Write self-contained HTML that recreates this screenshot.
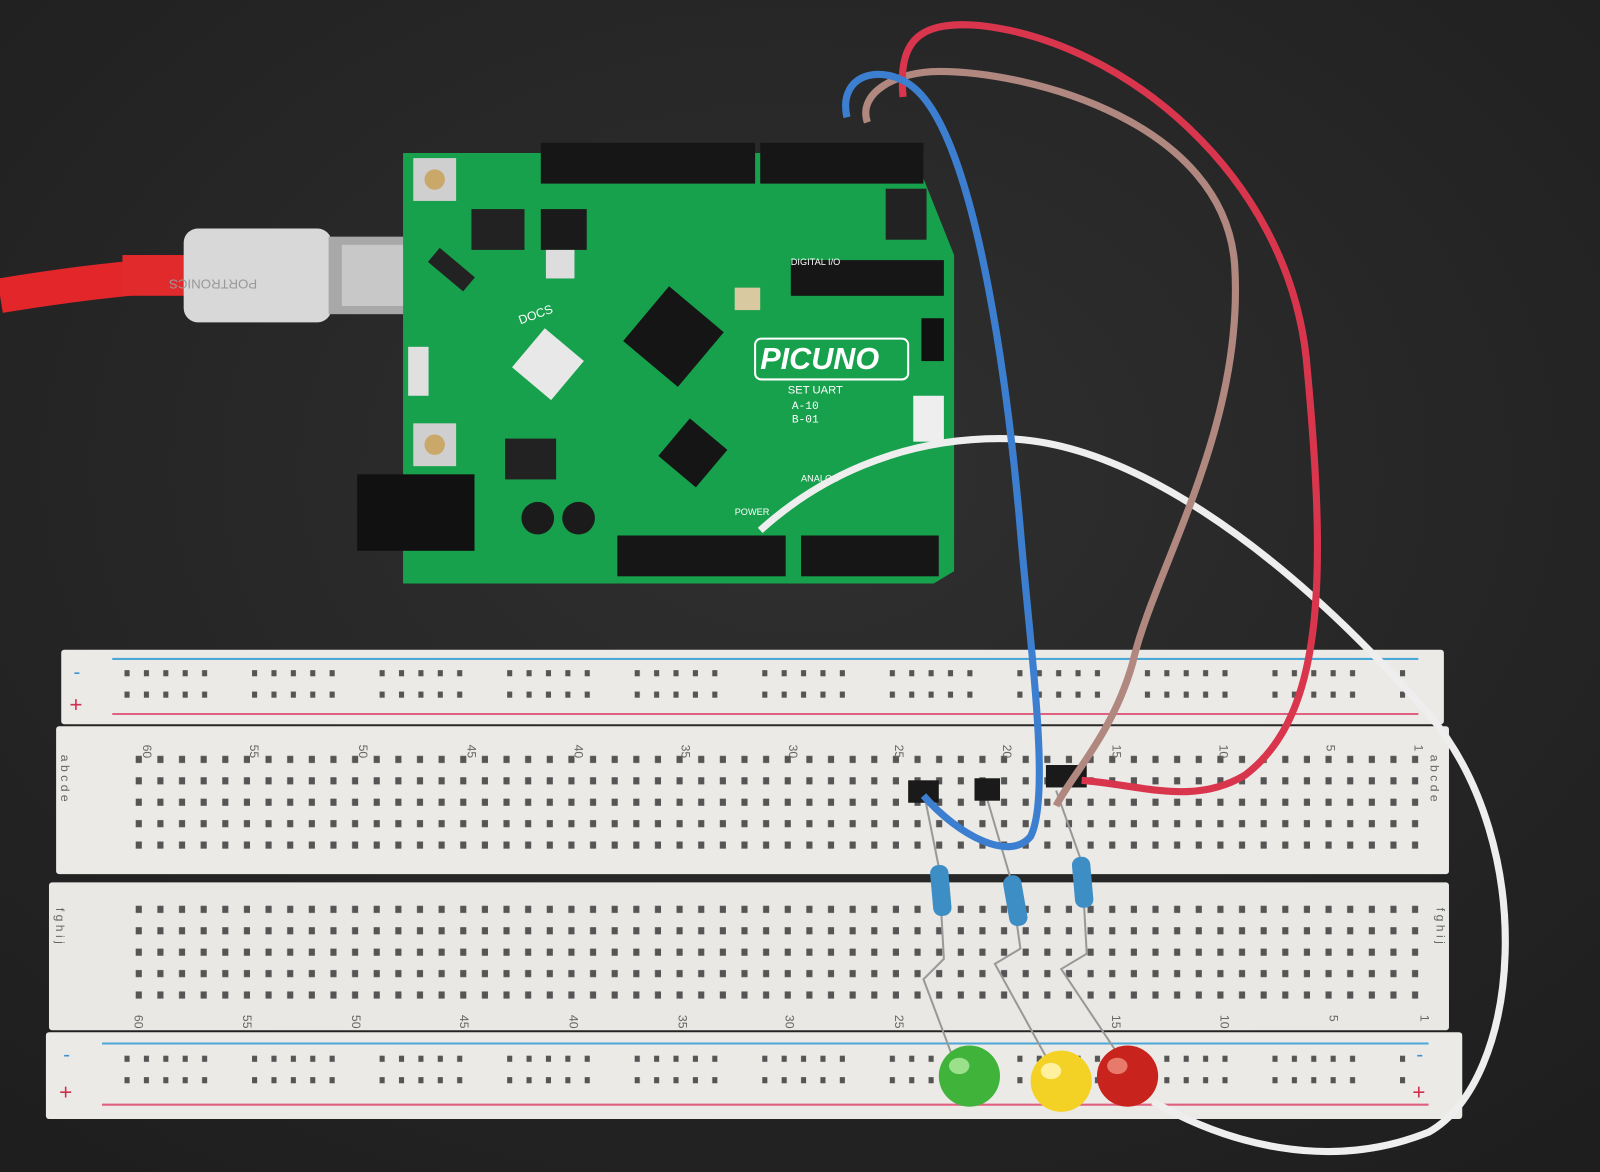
<!DOCTYPE html>
<html><head><meta charset="utf-8"><style>
html,body{margin:0;padding:0;background:#262626;}
svg{display:block}
</style></head><body>
<svg width="1600" height="1172" viewBox="0 0 1568 1149" preserveAspectRatio="none" xmlns="http://www.w3.org/2000/svg">
<defs>
<radialGradient id="bg" cx="50%" cy="40%" r="75%"><stop offset="0" stop-color="#303030"/><stop offset="1" stop-color="#1e1e1e"/></radialGradient>
<pattern id="holes" x="20" y="0" width="21.2" height="21" patternUnits="userSpaceOnUse"><rect x="7" y="6" width="6" height="7" fill="#555"/></pattern>
<pattern id="rail" x="122" y="0" width="125" height="21" patternUnits="userSpaceOnUse">
<rect x="0" y="6" width="5" height="6" fill="#555"/><rect x="19" y="6" width="5" height="6" fill="#555"/><rect x="38" y="6" width="5" height="6" fill="#555"/><rect x="57" y="6" width="5" height="6" fill="#555"/><rect x="76" y="6" width="5" height="6" fill="#555"/></pattern>
</defs>
<rect width="1568" height="1149" fill="url(#bg)"/>

<!-- USB cable -->
<path d="M0,290 C60,280 120,272 190,268" stroke="#e3262a" stroke-width="34" fill="none"/>
<rect x="120" y="250" width="70" height="40" fill="#e02a2b"/>
<rect x="180" y="224" width="145" height="92" rx="14" fill="#d8d8d8"/>
<text x="252" y="262" font-family="Liberation Sans,sans-serif" font-size="13" fill="#999" transform="rotate(180 252 268)">PORTRONICS</text>
<rect x="322" y="232" width="85" height="76" fill="#a8a8a8"/>
<rect x="335" y="240" width="66" height="60" fill="#c8c8c8"/>

<!-- Board -->
<path d="M395,150 L905,150 L905,175 L935,250 L935,560 L915,572 L395,572 Z" fill="#17a14c"/>
<rect x="530" y="140" width="210" height="40" fill="#161616"/>
<rect x="745" y="140" width="160" height="40" fill="#161616"/>
<rect x="775" y="255" width="150" height="35" fill="#161616"/>
<rect x="605" y="525" width="165" height="40" fill="#161616"/>
<rect x="785" y="525" width="135" height="40" fill="#161616"/>
<rect x="350" y="465" width="115" height="75" fill="#111"/>
<rect x="405" y="155" width="42" height="42" fill="#cfcfcf"/><circle cx="426" cy="176" r="10" fill="#c9a86a"/>
<rect x="405" y="415" width="42" height="42" fill="#cfcfcf"/><circle cx="426" cy="436" r="10" fill="#c9a86a"/>
<rect x="400" y="340" width="20" height="48" fill="#e0e0e0"/>
<rect x="625" y="295" width="70" height="70" fill="#151515" transform="rotate(40 660 330)"/>
<rect x="655" y="420" width="48" height="48" fill="#151515" transform="rotate(40 679 444)"/>
<rect x="462" y="205" width="52" height="40" fill="#222"/>
<rect x="530" y="205" width="45" height="40" fill="#1a1a1a"/>
<rect x="495" y="430" width="50" height="40" fill="#222"/>
<rect x="535" y="245" width="28" height="28" fill="#ddd"/>
<rect x="420" y="255" width="45" height="18" fill="#222" transform="rotate(40 442 264)"/>
<circle cx="527" cy="508" r="16" fill="#1b1b1b"/><circle cx="567" cy="508" r="16" fill="#1b1b1b"/>
<rect x="868" y="185" width="40" height="50" fill="#222"/>
<rect x="895" y="388" width="30" height="45" fill="#eee"/>
<rect x="903" y="312" width="22" height="42" fill="#111"/>
<rect x="720" y="282" width="25" height="22" fill="#d9c9a0"/>
<text x="745" y="362" font-family="Liberation Sans,sans-serif" font-size="30" font-weight="bold" font-style="italic" fill="#fff">PICUNO</text>
<rect x="740" y="332" width="150" height="40" fill="none" stroke="#fff" stroke-width="2" rx="6"/>
<text x="772" y="386" font-family="Liberation Sans,sans-serif" font-size="11" fill="#fff">SET UART</text>
<text x="776" y="401" font-family="Liberation Mono,monospace" font-size="11" fill="#fff">A-10</text>
<text x="776" y="414" font-family="Liberation Mono,monospace" font-size="11" fill="#fff">B-01</text>
<text x="510" y="318" font-family="Liberation Sans,sans-serif" font-size="12" fill="#fff" transform="rotate(-20 510 318)">DOCS</text>
<rect x="512" y="332" width="50" height="50" fill="#e8e8e8" transform="rotate(40 537 357)"/>
<text x="775" y="260" font-family="Liberation Sans,sans-serif" font-size="9" fill="#fff">DIGITAL I/O</text>
<text x="785" y="472" font-family="Liberation Sans,sans-serif" font-size="9" fill="#fff">ANALOG</text>
<text x="720" y="505" font-family="Liberation Sans,sans-serif" font-size="9" fill="#fff">POWER</text>

<!-- Breadboard -->
<rect x="60" y="637" width="1355" height="73" fill="#eceae6" rx="3"/>
<rect x="55" y="712" width="1365" height="145" fill="#eceae6" rx="3"/>
<rect x="48" y="865" width="1372" height="145" fill="#e9e8e4" rx="3"/>
<rect x="45" y="1012" width="1388" height="85" fill="#eceae6" rx="3"/>
<line x1="110" y1="646" x2="1390" y2="646" stroke="#4aa7d8" stroke-width="2"/>
<line x1="110" y1="700" x2="1390" y2="700" stroke="#e06080" stroke-width="2"/>
<line x1="100" y1="1023" x2="1400" y2="1023" stroke="#4aa7d8" stroke-width="2"/>
<line x1="100" y1="1083" x2="1400" y2="1083" stroke="#e06080" stroke-width="2"/>
<text x="72" y="665" font-family="Liberation Sans,sans-serif" font-size="20" fill="#3a8fd0">-</text>
<text x="68" y="698" font-family="Liberation Sans,sans-serif" font-size="22" fill="#d03050">+</text>
<text x="62" y="1040" font-family="Liberation Sans,sans-serif" font-size="20" fill="#3a8fd0">-</text>
<text x="58" y="1078" font-family="Liberation Sans,sans-serif" font-size="22" fill="#d03050">+</text>
<text x="1388" y="1040" font-family="Liberation Sans,sans-serif" font-size="20" fill="#3a8fd0">-</text>
<text x="1384" y="1078" font-family="Liberation Sans,sans-serif" font-size="22" fill="#d03050">+</text>
<rect x="120" y="652" width="1260" height="42" fill="url(#rail)"/>
<rect x="105" y="1030" width="1275" height="42" fill="url(#rail)"/>
<rect x="130" y="733" width="1265" height="105" fill="url(#holes)"/>
<rect x="125" y="882" width="1272" height="105" fill="url(#holes)"/>
<g font-family="Liberation Sans,sans-serif" font-size="12" fill="#666">
<text x="140" y="730" transform="rotate(90 140 730)">60</text><text x="245" y="730" transform="rotate(90 245 730)">55</text><text x="352" y="730" transform="rotate(90 352 730)">50</text><text x="458" y="730" transform="rotate(90 458 730)">45</text><text x="563" y="730" transform="rotate(90 563 730)">40</text><text x="668" y="730" transform="rotate(90 668 730)">35</text><text x="773" y="730" transform="rotate(90 773 730)">30</text><text x="877" y="730" transform="rotate(90 877 730)">25</text><text x="983" y="730" transform="rotate(90 983 730)">20</text><text x="1090" y="730" transform="rotate(90 1090 730)">15</text><text x="1195" y="730" transform="rotate(90 1195 730)">10</text><text x="1300" y="730" transform="rotate(90 1300 730)">5</text><text x="1386" y="730" transform="rotate(90 1386 730)">1</text>
<text x="132" y="995" transform="rotate(90 132 995)">60</text><text x="238" y="995" transform="rotate(90 238 995)">55</text><text x="345" y="995" transform="rotate(90 345 995)">50</text><text x="451" y="995" transform="rotate(90 451 995)">45</text><text x="558" y="995" transform="rotate(90 558 995)">40</text><text x="665" y="995" transform="rotate(90 665 995)">35</text><text x="770" y="995" transform="rotate(90 770 995)">30</text><text x="877" y="995" transform="rotate(90 877 995)">25</text><text x="1090" y="995" transform="rotate(90 1090 995)">15</text><text x="1196" y="995" transform="rotate(90 1196 995)">10</text><text x="1303" y="995" transform="rotate(90 1303 995)">5</text><text x="1392" y="995" transform="rotate(90 1392 995)">1</text>
<text x="60" y="740" transform="rotate(90 60 740)">a b c d e</text>
<text x="1402" y="740" transform="rotate(90 1402 740)">a b c d e</text>
<text x="55" y="890" transform="rotate(90 55 890)">f g h i j</text>
<text x="1408" y="890" transform="rotate(90 1408 890)">f g h i j</text>
</g>

<!-- resistors and leads -->
<g stroke="#999" stroke-width="2" fill="none">
<path d="M905,775 L920,850 L925,940 L905,960 L935,1040"/>
<path d="M965,775 L990,860 L1000,930 L975,945 L1030,1045"/>
<path d="M1035,775 L1060,845 L1065,935 L1040,950 L1100,1040"/>
</g>
<rect x="913" y="848" width="18" height="50" rx="8" fill="#3d8ec5" transform="rotate(-5 922 873)"/>
<rect x="986" y="858" width="18" height="50" rx="8" fill="#3d8ec5" transform="rotate(-10 995 883)"/>
<rect x="1052" y="840" width="18" height="50" rx="8" fill="#3d8ec5" transform="rotate(-5 1061 865)"/>
<rect x="890" y="765" width="30" height="22" fill="#1a1a1a"/>
<rect x="955" y="763" width="25" height="22" fill="#1a1a1a"/>
<rect x="1025" y="750" width="40" height="22" fill="#1a1a1a"/>

<!-- LEDs -->
<ellipse cx="950" cy="1055" rx="30" ry="30" fill="#3fb33a"/><ellipse cx="940" cy="1045" rx="10" ry="8" fill="#9be08a"/>
<ellipse cx="1040" cy="1060" rx="30" ry="30" fill="#f3d225"/><ellipse cx="1030" cy="1050" rx="10" ry="8" fill="#fff0a0"/>
<ellipse cx="1105" cy="1055" rx="30" ry="30" fill="#c8241d"/><ellipse cx="1095" cy="1045" rx="10" ry="8" fill="#e77a6a"/>

<!-- wires -->
<path d="M745,520 C800,470 880,430 980,430 C1100,430 1250,530 1400,700 C1510,830 1490,1060 1400,1110 C1300,1150 1200,1120 1130,1080" stroke="#eeeeee" stroke-width="7" fill="none"/>
<path d="M850,120 C840,90 880,70 920,70 C1010,70 1200,120 1210,260 C1220,420 1130,560 1110,650 C1090,720 1050,760 1035,790" stroke="#b08880" stroke-width="7" fill="none"/>
<path d="M885,95 C880,40 900,20 960,25 C1100,40 1260,170 1280,350 C1300,560 1300,700 1220,760 C1170,790 1120,770 1060,765" stroke="#d9364e" stroke-width="7" fill="none"/>
<path d="M830,115 C820,70 870,60 900,90 C960,150 990,400 1000,520 C1010,640 1030,780 1010,820 C990,845 940,820 905,780" stroke="#3c7fd0" stroke-width="7" fill="none"/>
</svg>
</body></html>
